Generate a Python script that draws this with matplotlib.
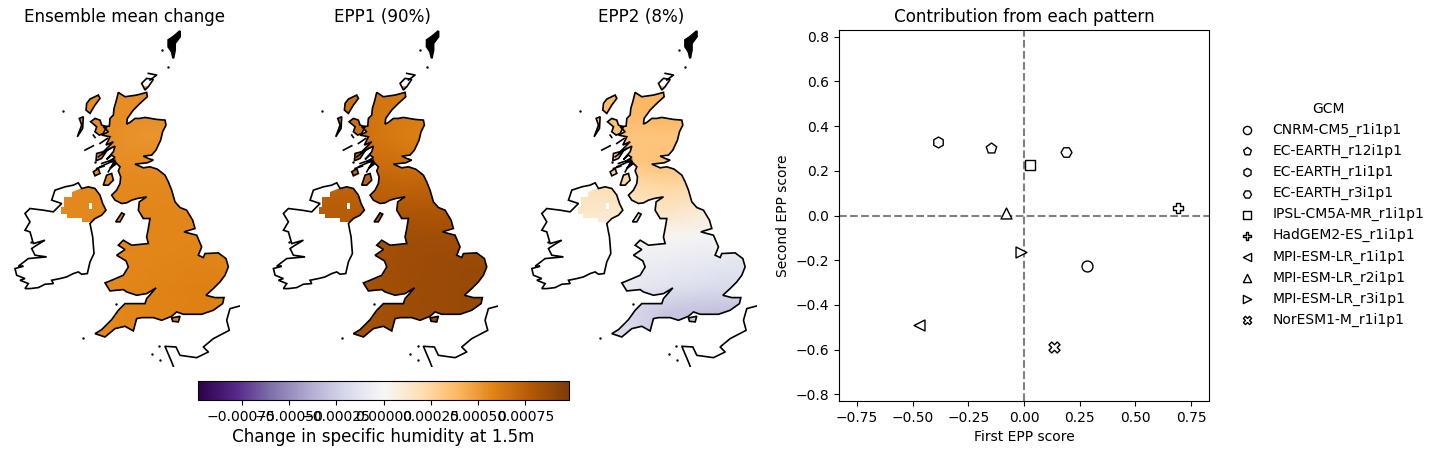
import matplotlib
matplotlib.use("Agg")
import matplotlib.pyplot as plt
import numpy as np
from matplotlib.patches import Polygon, PathPatch
from matplotlib.path import Path
from matplotlib.cm import ScalarMappable
from matplotlib.colors import Normalize
from matplotlib.ticker import FuncFormatter

# scatter data
gcms = ["CNRM-CM5_r1i1p1", "EC-EARTH_r12i1p1", "EC-EARTH_r1i1p1", "EC-EARTH_r3i1p1",
        "IPSL-CM5A-MR_r1i1p1", "HadGEM2-ES_r1i1p1", "MPI-ESM-LR_r1i1p1",
        "MPI-ESM-LR_r2i1p1", "MPI-ESM-LR_r3i1p1", "NorESM1-M_r1i1p1"]
first_score = [0.283, -0.147, -0.385, 0.19, 0.028, 0.69, -0.47, -0.08, -0.015, 0.135]
second_score = [-0.225, 0.30, 0.33, 0.283, 0.228, 0.035, -0.49, 0.01, -0.165, -0.59]
markers = ["o", "p", "h", "H", "s", "P", "<", "^", ">", "X"]

panel_titles = ["Ensemble mean change", "EPP1 (90%)", "EPP2 (8%)"]
cbar_ticks = [-0.00075, -0.0005, -0.00025, 0.0, 0.00025, 0.0005, 0.00075]

# coastlines, map units
gb = [(355,217),(375,230),(410,225),(440,217),(442,230),(420,250),(400,270),(382,295),(380,312),(390,307),(405,295),(420,295),
      (435,292),(470,298),(495,300),(498,315),(488,335),(482,360),(468,390),(455,405),(430,408),(445,415),(460,420),(442,428),
      (405,432),(430,443),(450,440),(472,447),(495,465),(505,485),(515,510),(525,545),(540,562),(560,570),(578,600),(585,625),
      (552,635),(590,645),(605,680),(595,705),(610,712),(615,700),(655,698),(678,715),(685,740),(675,765),(660,785),(640,805),
      (618,825),(645,832),(672,832),(668,850),(640,870),(605,882),(550,882),(530,875),(515,888),(485,900),(460,892),(425,892),
      (410,895),(400,932),(375,918),(345,925),(315,950),(285,940),(305,928),(335,898),(355,870),(375,850),(435,850),(440,835),
      (468,803),(440,820),(410,825),(380,815),(370,808),(330,812),(315,788),(335,780),(370,765),(385,740),(378,722),(350,705),
      (375,688),(355,675),(370,660),(395,675),(445,670),(440,650),(445,625),(450,595),(430,595),(415,570),(418,545),(440,530),
      (412,535),(395,540),(380,548),(365,550),(345,540),(335,525),(350,510),(360,490),(362,470),(355,452),(360,440),(350,430),
      (330,445),(348,425),(325,425),(345,412),(335,405),(320,418),(340,395),(345,378),(322,390),(305,400),(340,365),(318,375),
      (330,350),(305,345),(325,335),(310,320),(328,318),(330,295),(340,285),(342,265),(348,245)]
ireland = [(235,488),(245,505),(265,500),(285,505),(300,525),(308,550),(318,570),(305,585),(285,595),(270,610),(278,650),
           (282,700),(270,725),(262,760),(245,762),(235,755),(220,760),(200,770),(180,775),(155,780),(160,790),(135,792),
           (115,802),(90,805),(75,805),(85,790),(60,780),(75,775),(50,765),(45,745),(70,738),(55,738),(85,715),(140,710),
           (105,705),(95,685),(110,675),(135,660),(100,670),(90,635),(75,630),(90,605),(75,580),(90,565),(130,570),(160,575),
           (185,550),(155,540),(165,510),(195,500),(220,495)]
ni_cells = [(192,530),(215,530),(215,515),(245,505),(265,500),(285,505),(300,525),(308,550),(318,570),(305,585),(285,595),
            (272,605),(245,605),(245,593),(200,593),(200,580),(183,580),(183,560),(192,560)]
ni_hole = [(267,548),(276,548),(276,567),(267,567)]
islands = [[(295,225),(270,237),(260,250),(258,270),(270,280),(285,255),(300,235)],
           [(250,290),(238,295),(245,315),(232,350),(248,325)],
           [(285,295),(272,305),(290,320),(285,335),(298,345),(310,340),(320,320),(305,315),(300,300)],
           [(310,495),(320,465),(335,460),(340,480),(325,495)],
           [(290,400),(320,392),(305,415),(288,422)],
           [(280,455),(295,445),(300,460),(285,467)],
           [(347,605),(365,578),(373,582),(360,605)],
           [(515,893),(540,888),(535,905),(518,903)],
           [(440,175),(425,190),(435,210),(445,200),(460,178)]]
shetland = [(540,33),(520,50),(505,60),(505,80),(515,95),(520,115),(525,90),(525,70),(540,50)]
coast_lines = [[(255,390),(280,377)], [(445,160),(470,165),(450,180)], [(285,352),(280,345)], [(300,440),(345,420),(325,455)],
               [(300,370),(322,355)], [(295,410),(330,385)], [(305,430),(340,418)], [(290,445),(312,438)],
               [(720,857),(690,865),(680,900),(688,930),(640,955),(610,980),(625,995),(590,1012),(540,1005),(528,980),
                (495,978),(515,1025),(520,1038)]]
coast_dots = [(190,272),(486,90),(505,140),(250,952),(348,850),(456,1000),(480,1020),(478,978),(93,665),(285,427)]

# fields, read on a coarse grid (rows north to south, columns west to east)
grid_x = [150, 300, 450, 600, 750]
grid_y = [200, 275, 350, 425, 500, 575, 650, 725, 800, 875, 950]
mean_change = [[0.00055, 0.00055, 0.00054, 0.00054, 0.00054],
               [0.00055, 0.00055, 0.00054, 0.00054, 0.00054],
               [0.00055, 0.00055, 0.00052, 0.00054, 0.00054],
               [0.00055, 0.00055, 0.00055, 0.00055, 0.00055],
               [0.00056, 0.00056, 0.00056, 0.00056, 0.00056],
               [0.00056, 0.00056, 0.00057, 0.00057, 0.00057],
               [0.00056, 0.00056, 0.00057, 0.00057, 0.00057],
               [0.00056, 0.00056, 0.00057, 0.00058, 0.00058],
               [0.00056, 0.00056, 0.00058, 0.00059, 0.00059],
               [0.00056, 0.00056, 0.00058, 0.00059, 0.00059],
               [0.00056, 0.00056, 0.00058, 0.00059, 0.00059]]
epp1 = [[0.00066, 0.00066, 0.00062, 0.00062, 0.00062],
        [0.00066, 0.00066, 0.00062, 0.00062, 0.00062],
        [0.00067, 0.00067, 0.00060, 0.00062, 0.00062],
        [0.00069, 0.00069, 0.00066, 0.00068, 0.00068],
        [0.00074, 0.00074, 0.00072, 0.00074, 0.00074],
        [0.00076, 0.00076, 0.00080, 0.00080, 0.00080],
        [0.00076, 0.00080, 0.00085, 0.00085, 0.00085],
        [0.00076, 0.00082, 0.00086, 0.00088, 0.00088],
        [0.00076, 0.00082, 0.00086, 0.00088, 0.00090],
        [0.00078, 0.00082, 0.00086, 0.00088, 0.00090],
        [0.00078, 0.00082, 0.00086, 0.00088, 0.00090]]
epp2 = [[0.00038, 0.00038, 0.00040, 0.00040, 0.00040],
        [0.00036, 0.00036, 0.00040, 0.00040, 0.00040],
        [0.00033, 0.00033, 0.00033, 0.00033, 0.00033],
        [0.00030, 0.00032, 0.00034, 0.00030, 0.00030],
        [0.00018, 0.00020, 0.00024, 0.00020, 0.00020],
        [0.00015, 0.00012, 0.00015, 0.00008, 0.00006],
        [0.00010, 0.00000, 0.00002, -0.00003, -0.00005],
        [0.00000, -0.00005, -0.00007, -0.00010, -0.00014],
        [-0.00008, -0.00008, -0.00014, -0.00018, -0.00018],
        [-0.00016, -0.00016, -0.00028, -0.00030, -0.00030],
        [-0.00016, -0.00016, -0.00028, -0.00030, -0.00030]]
fields = [mean_change, epp1, epp2]

W, H = 1440, 454


def px_axes(fig, left, top, right, bottom):
    return fig.add_axes([left / W, 1 - bottom / H, (right - left) / W, (bottom - top) / H])


def closed_path(pts):
    return Path(np.array(pts + [pts[0]], dtype=float), closed=True)


fig = plt.figure(figsize=(W / 100, H / 100), dpi=100)
norm = Normalize(-0.00098, 0.00098)

for i, field in enumerate(fields):
    left = 8 + i * 258.4
    ax = px_axes(fig, left, 29, left + 232, 367)
    ax.set_xlim(24, 720)
    ax.set_ylim(1040, 27)
    ax.axis("off")
    ax.set_title(panel_titles[i], fontsize=12.1, pad=5)

    # the field is only over GB and Northern Ireland
    clip = Path.make_compound_path(*[closed_path(p) for p in [gb, ni_cells] + islands])
    clip_patch = PathPatch(clip, transform=ax.transData, fc="none", ec="none")
    ax.add_patch(clip_patch)
    mesh = ax.pcolormesh(grid_x, grid_y, field, cmap="PuOr_r", norm=norm, shading="gouraud", zorder=1)
    mesh.set_clip_path(clip_patch)
    ax.add_patch(Polygon(ni_hole, closed=True, fc="white", ec="none", zorder=2))

    for shape in [gb, ireland] + islands:
        ax.add_patch(Polygon(shape, closed=True, fc="none", ec="black", lw=1.2, zorder=3))
    ax.add_patch(Polygon(shetland, closed=True, fc="black", ec="black", lw=1.5, zorder=3))
    for line in coast_lines:
        xs, ys = zip(*line)
        ax.plot(xs, ys, color="black", lw=1.2, zorder=3)
    dx, dy = zip(*coast_dots)
    ax.scatter(dx, dy, s=3, color="black", linewidth=0, zorder=3)

# colourbar
cax = px_axes(fig, 198, 381, 569, 400)
cb = fig.colorbar(ScalarMappable(norm=norm, cmap="PuOr_r"), cax=cax, orientation="horizontal")
cb.set_ticks(cbar_ticks)
cb.ax.xaxis.set_major_formatter(FuncFormatter(lambda v, p: f"{v:.5f}".replace("-", "\u2212")))
cb.ax.tick_params(labelsize=10.1)
cb.set_label("Change in specific humidity at 1.5m", fontsize=12.1, labelpad=3)

# scatter of the scores
ax = px_axes(fig, 839, 30, 1209, 401)
for name, x, y, m in zip(gcms, first_score, second_score, markers):
    ax.scatter(x, y, marker=m, s=62, facecolor="white", edgecolor="black", linewidth=1.0, label=name, zorder=3)
ax.axhline(0, color="grey", ls="--", lw=1.5)
ax.axvline(0, color="grey", ls="--", lw=1.5)
ax.set_xlim(-0.83, 0.83)
ax.set_ylim(-0.83, 0.83)
ax.set_xticks(np.arange(-0.75, 0.76, 0.25))
ax.set_yticks(np.arange(-0.8, 0.81, 0.2))
ax.set_xlabel("First EPP score", labelpad=3.5)
ax.set_ylabel("Second EPP score")
ax.set_title("Contribution from each pattern", fontsize=12.1, pad=6)
ax.legend(title="GCM", frameon=False, loc="center left", bbox_to_anchor=(1.032, 0.503), markerscale=0.75, fontsize=10,
          labelspacing=0.5)

fig.savefig("out.png", dpi=100)
